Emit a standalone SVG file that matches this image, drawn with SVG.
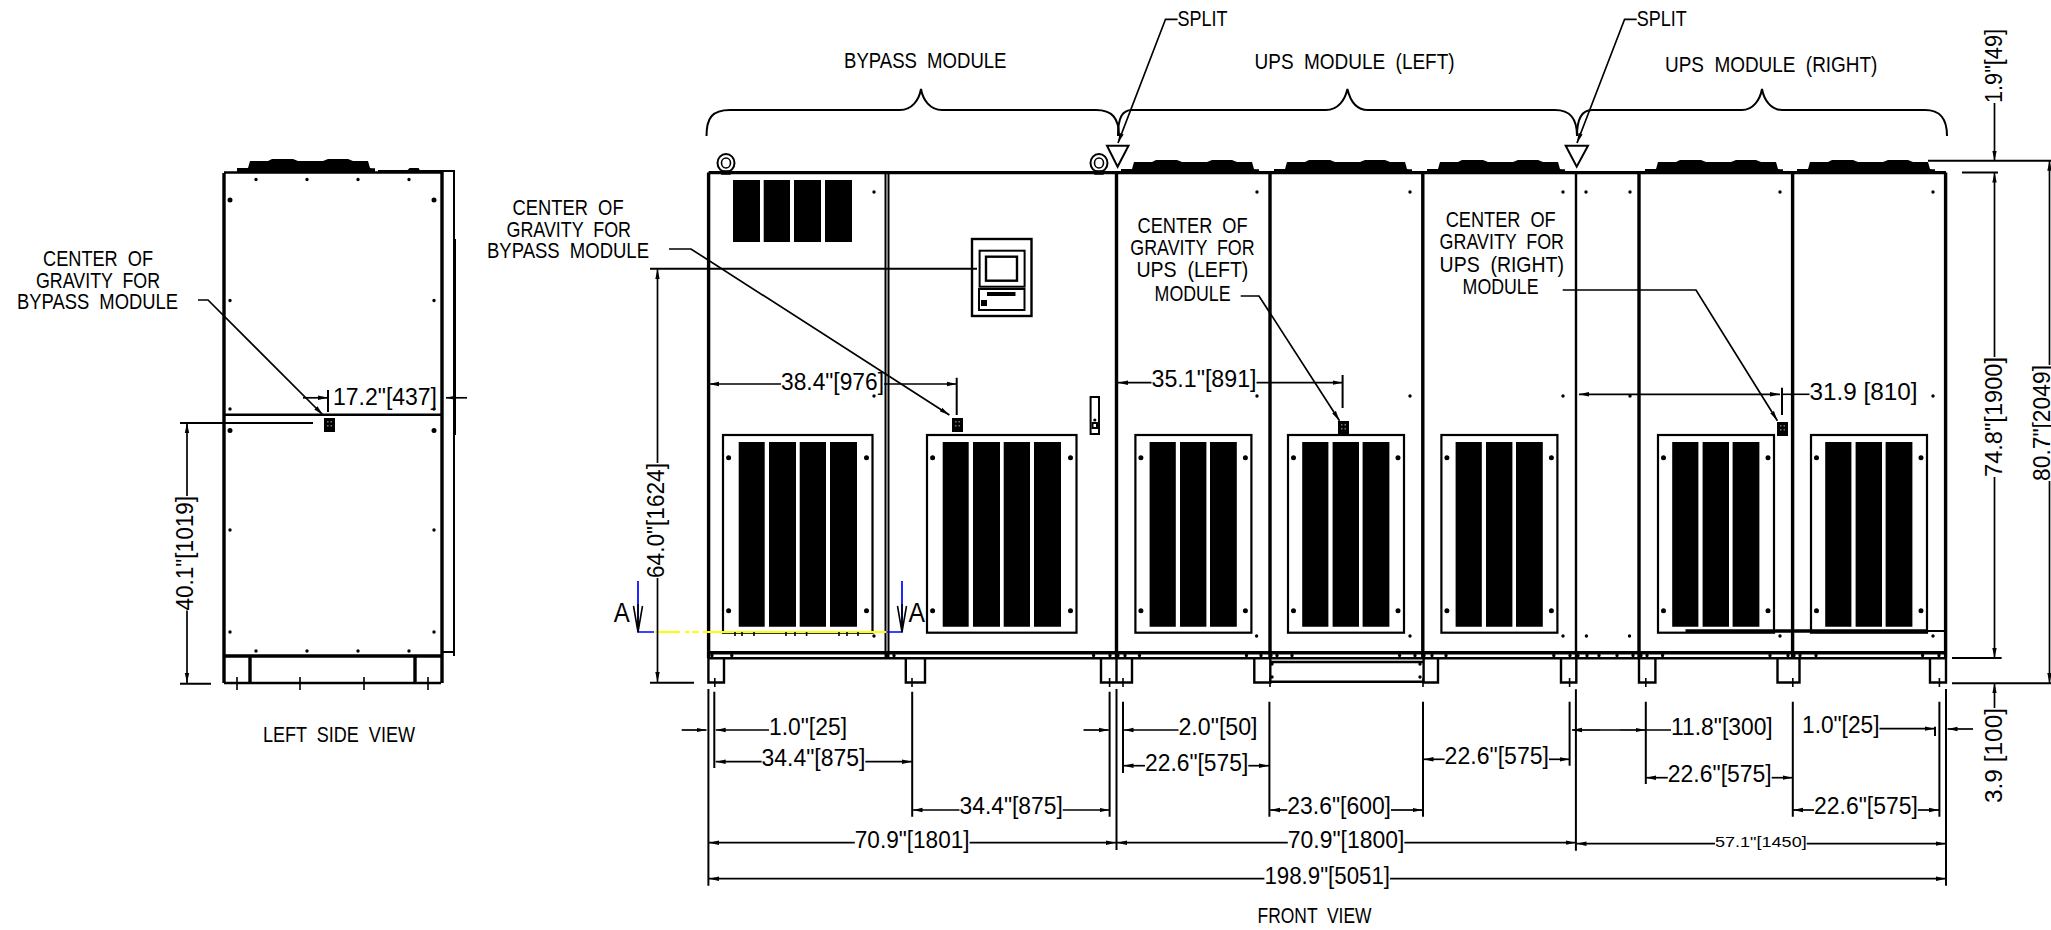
<svg xmlns="http://www.w3.org/2000/svg" width="2051" height="930" viewBox="0 0 2051 930">
<style>
text{font-family:"Liberation Sans",Arial,sans-serif;fill:#000;font-size:23px}
.l{font-size:22px;word-spacing:6px}
.s{font-size:15px}
.big{font-size:27px}
.d{fill:none;stroke:#000;stroke-width:1.7;marker-end:url(#a)}
.n{fill:none;stroke:#000;stroke-width:1.6}
.k{fill:none;stroke:#000;stroke-width:2}
.h{fill:none;stroke:#000;stroke-width:3.4}
.m{fill:none;stroke:#000;stroke-width:2.4}
.b{fill:#000;stroke:none}
.o{fill:#fff;stroke:#000;stroke-width:2.2}
.t{fill:none;stroke:#000;stroke-width:2}
.p{fill:none;stroke:#000;stroke-width:3.4;stroke-linecap:round}
.q{fill:none;stroke:#000;stroke-width:5;stroke-linecap:round}
.blue{fill:none;stroke:#0000ff;stroke-width:1.7}
.yel{fill:none;stroke:#ffff00;stroke-width:2.2}
</style>
<defs>
<marker id="a" markerUnits="userSpaceOnUse" viewBox="-10 -3 10 6" refX="0" refY="0" markerWidth="10" markerHeight="6" orient="auto"><path d="M-10-2.2L0 0L-10 2.2z"/></marker>
<g id="l4"><rect class="o" width="149.5" height="197.7"/><path class="b" d="M15.7 7h26v184.7h-26zM46 7h27v184.7h-27zM76.7 7h26.3v184.7h-26.3zM107 7h27v184.7h-27z"/><path class="q" d="M5.6 22.7h0M143.5 22.7h0M5.6 175.7h0M143.5 175.7h0"/></g>
<g id="l3"><rect class="o" width="116" height="197.7"/><path class="b" d="M14.2 7h26.2v184.7h-26.2zM44.6 7h26.4v184.7h-26.4zM74.6 7h26.8v184.7h-26.8z"/><path class="q" d="M5.5 22.7h0M110 22.7h0M5.5 175.7h0M110 175.7h0"/></g>
<g id="fan"><path class="b" d="M-11 173H127V169.3H124L122 169L120 162H105L100 160H80L75 162H50L45 160H24L20 162H2L0 169H-11z"/></g>
<g id="cog"><rect class="b" width="11" height="14"/><path d="M3 3h1.5v1.5h-1.5zM6.5 3h1.5v1.5h-1.5zM3 7h1.5v1.5h-1.5zM6.5 7h1.5v1.5h-1.5z" fill="#777"/></g>
<g id="eye"><ellipse cx="0" cy="-1" rx="8.5" ry="9" fill="none" stroke="#000" stroke-width="2"/><ellipse cx="0" cy="-1" rx="4.5" ry="5" fill="none" stroke="#000" stroke-width="1.6"/><path class="n" d="M-4 7h8v3h-8z"/></g>
</defs>

<g id="left-side-view">
<use href="#fan" x="248" y="-1"/>
<path class="k" d="M378 171H454V656M408 171l2-2h8l1 2M455 239v47M455 286v149M441 652h13"/>
<path class="h" d="M224 173V683M442 172V683M224 656H442"/>
<path class="m" d="M224 172.5H441M224 414.8H441M224 683H441"/>
<path class="h" d="M250 656V683M415 656V683"/>
<path class="n" d="M237 677v13M300 677v13M364 677v13M428 677v13"/>
<path class="q" d="M230 200h0M434 200h0M230 430.6h0M434 430.6h0"/>
<path class="p" d="M256 179.5h0M307 179.5h0M358 179.5h0M409 179.5h0M230 300.5h0M434 300.5h0M230 409h0M434 409h0M230 530h0M434 530h0M230 632h0M434 632h0M256 651h0M307 651h0M358 651h0M409 651h0"/>
<use href="#cog" x="324" y="418"/>
<text class="l" x="43" y="265.7" textLength="110" lengthAdjust="spacingAndGlyphs">CENTER OF</text>
<text class="l" x="36" y="287.5" textLength="124" lengthAdjust="spacingAndGlyphs">GRAVITY FOR</text>
<text class="l" x="17" y="309" textLength="161" lengthAdjust="spacingAndGlyphs">BYPASS MODULE</text>
<text class="l" x="263" y="742" textLength="152" lengthAdjust="spacingAndGlyphs">LEFT SIDE VIEW</text>
<text x="333" y="405" textLength="104" lengthAdjust="spacingAndGlyphs">17.2"[437]</text>
<text transform="rotate(-90 193 610.5)" x="193" y="610.5" textLength="114.5" lengthAdjust="spacingAndGlyphs">40.1"[1019]</text>
</g>

<g id="front-view">
<use href="#fan" x="1132"/><use href="#fan" x="1285"/><use href="#fan" x="1438"/><use href="#fan" x="1656"/><use href="#fan" x="1808"/>
<use href="#eye" x="726" y="164"/><use href="#eye" x="1099" y="164"/>
<path class="h" d="M708.6 172.6H1946M708.6 172.6V658M1116.5 172.6V658M1270 172.6V658M1422.8 172.6V658M1639 172.6V658M1792.6 172.6V658M1945.6 172.6V658"/>
<path class="m" d="M1576 172.6V658"/>
<path class="k" d="M885.5 172.6V658M888.5 172.6V658"/>
<path class="h" d="M708.6 652.7H1946"/>
<path class="m" d="M708.6 658.3H1946"/>
<path class="b" d="M733 180h27v62h-27zM763.7 180h26.3v62h-26.3zM794 180h27v62h-27zM825 180h27v62h-27z"/>
<use href="#l4" x="723" y="435"/><use href="#l4" x="927" y="435"/>
<use href="#l3" x="1135.4" y="435"/><use href="#l3" x="1288" y="435"/><use href="#l3" x="1441.4" y="435"/><use href="#l3" x="1658" y="435"/><use href="#l3" x="1811" y="435"/>
<path class="k" d="M1774 631H1945"/><path class="h" d="M1685.5 631H1927"/>
<g id="hmi-panel"><rect class="m" x="972" y="239" width="59.5" height="77" fill="#fff"/><rect class="k" x="979.6" y="250.7" width="45" height="36"/><rect class="m" x="986" y="256.7" width="31" height="24"/><rect class="k" x="979" y="289" width="45.5" height="21"/><path class="b" d="M987 292h28.5v4h-28.5zM981 300h6v6h-6z"/></g>
<g id="door-handle"><rect class="k" x="1090.6" y="397" width="8.4" height="37"/><rect class="k" x="1092.5" y="423" width="4.5" height="5"/><circle class="b" cx="1094.8" cy="420" r="1.6"/></g>
<path class="p" d="M874 192h0M874 396h0M1257 192h0M1410 192h0M1563 192h0M1586 192h0M1630 192h0M1780 192h0M1933 192h0M1257 396h0M1410 396h0M1563 396h0M1630 396h0M1933 396h0M874 636h0M1256.6 636h0M1410 636h0M1563 636h0M1586.4 636h0M1629.5 636h0M1780 636h0M1933 636h0"/>
<path class="p" d="M712 655.5h0M731.8 655.5h0M887 655.5h0M894 655.5h0M1093.6 655.5h0M1110 655.5h0M1118 655.5h0M1125 655.5h0M1139.5 655.5h0M1246.5 655.5h0M1261 655.5h0M1271 655.5h0M1277 655.5h0M1292 655.5h0M1399.6 655.5h0M1415 655.5h0M1424 655.5h0M1432 655.5h0M1446 655.5h0M1553.8 655.5h0M1570 655.5h0M1578 655.5h0M1587 655.5h0M1599 655.5h0M1617 655.5h0M1633 655.5h0M1641 655.5h0M1647 655.5h0M1662.6 655.5h0M1770 655.5h0M1788 655.5h0M1794 655.5h0M1800 655.5h0M1816 655.5h0M1922.6 655.5h0M1939 655.5h0"/>
<g id="feet"><path class="m" d="M708.4 658V682.5H724V658M905.8 658V682.5H925V658M1101 658V682.5H1132V658M1116.5 658V683M1254.3 658V682.5H1270.3V658M1423.6 658V682.5H1438V658M1561 658V682.5H1576.3V658M1639 658V682.5H1655.4V658M1777.5 658V682.5H1799.5V658M1930 658V682.5H1946V658"/>
<path class="m" d="M1270 662H1424M1270 681.7H1424"/>
<path class="p" d="M1272 664h0M1272 677h0M1420 664h0M1420 677h0"/>
<path class="n" d="M714.8 678v9M912 678v9M1109.6 678v9M1123 678v9M1270 678v9M1423 678v9M1569.6 678v9M1645.8 678v9M1792.8 678v9M1939.4 678v9"/></g>
<use href="#cog" x="952" y="418"/><use href="#cog" x="1338" y="421"/><use href="#cog" x="1777" y="422"/>
<path class="yel" d="M655 632H680M685 632H689.5M692 632H698.7M703 632H886"/>
<path class="blue" d="M638 581V632H654M887 632H902V581"/>
<path class="n" d="M735 632v4M742 632v4M754 632v4M786 632v4M795 632v4M806.6 632v4M839 632v4M847 632v4M858 632v4"/>
<path class="n" d="M638 604V632M633.5 606L638 632L642.5 606M902 604V632M897.5 606L902 632L906.5 606"/>
<text class="big" x="613.8" y="622.3" textLength="16" lengthAdjust="spacingAndGlyphs">A</text>
<text class="big" x="908.5" y="622.3" textLength="16.5" lengthAdjust="spacingAndGlyphs">A</text>
</g>

<g id="labels">
<text class="l" x="844" y="68" textLength="162.5" lengthAdjust="spacingAndGlyphs">BYPASS MODULE</text>
<text class="l" x="1254.6" y="69.3" textLength="200" lengthAdjust="spacingAndGlyphs">UPS MODULE (LEFT)</text>
<text class="l" x="1665" y="71.7" textLength="212.4" lengthAdjust="spacingAndGlyphs">UPS MODULE (RIGHT)</text>
<text class="l" x="1177.6" y="26" textLength="50" lengthAdjust="spacingAndGlyphs">SPLIT</text>
<text class="l" x="1636.7" y="26" textLength="50" lengthAdjust="spacingAndGlyphs">SPLIT</text>
<text class="l" x="512.6" y="215" textLength="111" lengthAdjust="spacingAndGlyphs">CENTER OF</text>
<text class="l" x="506.5" y="236.7" textLength="124.5" lengthAdjust="spacingAndGlyphs">GRAVITY FOR</text>
<text class="l" x="487" y="258" textLength="162" lengthAdjust="spacingAndGlyphs">BYPASS MODULE</text>
<text class="l" x="1137.6" y="233.3" textLength="110" lengthAdjust="spacingAndGlyphs">CENTER OF</text>
<text class="l" x="1130.3" y="255" textLength="124.3" lengthAdjust="spacingAndGlyphs">GRAVITY FOR</text>
<text class="l" x="1136.4" y="277.3" textLength="112" lengthAdjust="spacingAndGlyphs">UPS (LEFT)</text>
<text class="l" x="1154.6" y="301" textLength="76" lengthAdjust="spacingAndGlyphs">MODULE</text>
<text class="l" x="1445.7" y="227.3" textLength="110" lengthAdjust="spacingAndGlyphs">CENTER OF</text>
<text class="l" x="1439.6" y="249" textLength="124.4" lengthAdjust="spacingAndGlyphs">GRAVITY FOR</text>
<text class="l" x="1439.6" y="271.7" textLength="124.4" lengthAdjust="spacingAndGlyphs">UPS (RIGHT)</text>
<text class="l" x="1462.6" y="294.3" textLength="76" lengthAdjust="spacingAndGlyphs">MODULE</text>
<text class="l" x="1257.5" y="923" textLength="114" lengthAdjust="spacingAndGlyphs">FRONT VIEW</text>
<text x="781" y="390" textLength="103" lengthAdjust="spacingAndGlyphs">38.4"[976]</text>
<text x="1151.5" y="387" textLength="105" lengthAdjust="spacingAndGlyphs">35.1"[891]</text>
<text x="1809.5" y="400" textLength="108" lengthAdjust="spacingAndGlyphs">31.9 [810]</text>
<text x="769" y="735" textLength="78" lengthAdjust="spacingAndGlyphs">1.0"[25]</text>
<text x="761.6" y="766" textLength="103.8" lengthAdjust="spacingAndGlyphs">34.4"[875]</text>
<text x="959.5" y="814.3" textLength="103.3" lengthAdjust="spacingAndGlyphs">34.4"[875]</text>
<text x="854.8" y="847.7" textLength="114.8" lengthAdjust="spacingAndGlyphs">70.9"[1801]</text>
<text x="1264.4" y="884" textLength="125.6" lengthAdjust="spacingAndGlyphs">198.9"[5051]</text>
<text x="1178.5" y="735" textLength="79" lengthAdjust="spacingAndGlyphs">2.0"[50]</text>
<text x="1145" y="770.7" textLength="103.3" lengthAdjust="spacingAndGlyphs">22.6"[575]</text>
<text x="1287.3" y="814.3" textLength="103.7" lengthAdjust="spacingAndGlyphs">23.6"[600]</text>
<text x="1287.8" y="847.7" textLength="116.6" lengthAdjust="spacingAndGlyphs">70.9"[1800]</text>
<text x="1444.6" y="764" textLength="104.4" lengthAdjust="spacingAndGlyphs">22.6"[575]</text>
<text x="1671" y="735" textLength="101.7" lengthAdjust="spacingAndGlyphs">11.8"[300]</text>
<text x="1667.8" y="782.3" textLength="103.9" lengthAdjust="spacingAndGlyphs">22.6"[575]</text>
<text x="1814" y="814.3" textLength="103.8" lengthAdjust="spacingAndGlyphs">22.6"[575]</text>
<text x="1802" y="733.3" textLength="77.5" lengthAdjust="spacingAndGlyphs">1.0"[25]</text>
<text class="s" x="1715" y="847.3" textLength="91.7" lengthAdjust="spacingAndGlyphs">57.1"[1450]</text>
<text transform="rotate(-90 664 578)" x="664" y="578" textLength="115" lengthAdjust="spacingAndGlyphs">64.0"[1624]</text>
<text transform="rotate(-90 2002 103)" x="2002" y="103" textLength="74" lengthAdjust="spacingAndGlyphs">1.9"[49]</text>
<text transform="rotate(-90 2002 477)" x="2002" y="477" textLength="120" lengthAdjust="spacingAndGlyphs">74.8"[1900]</text>
<text transform="rotate(-90 2050 481)" x="2050" y="481" textLength="116" lengthAdjust="spacingAndGlyphs">80.7"[2049]</text>
<text transform="rotate(-90 2002 803)" x="2002" y="803" textLength="95" lengthAdjust="spacingAndGlyphs">3.9 [100]</text>
</g>

<g id="connectors">
<path class="k" d="M706.5 136C706.5 118 712 110 730 110H900C912 110 919 100 921 89C923 100 930 110 942 110H1096C1112 110 1119 118 1119 136"/>
<path class="k" d="M1118 136C1118 118 1122 110 1132 110H1326C1338 110 1345 100 1347.4 89C1350 100 1356 110 1368 110H1555C1570 110 1577 118 1577 136"/>
<path class="k" d="M1577 136C1577 118 1582 110 1592 110H1742C1753 110 1760 100 1762 89C1764 100 1771 110 1782 110H1925C1940 110 1947 118 1947 136"/>
<path class="t" d="M1107 145.7H1128.5L1117.6 166.7z"/><path class="t" d="M1565.7 145.7H1588L1576.7 166.7z"/>
<path class="d" d="M1177.6 19.3H1165.5L1118 143"/><path class="d" d="M1636.7 19.3H1624.6L1577 143"/>
<path class="d" d="M198 300H208L323 415"/>
<path class="d" d="M669 249H691L949.4 415"/>
<path class="d" d="M1240.7 296H1259L1339.5 420.7"/>
<path class="d" d="M1562.7 290H1696L1777.4 420.7"/>
<path class="k" d="M180 423H313M180 683.7H211M328 390V412M650 268.7H977M650 682.7H694"/>
<path class="k" d="M956.7 377.7V415M1342.6 375V408M1782 387.7V415"/>
<path class="k" d="M1928 160.7H2051M1962 172.6H1998M1952 658H2001.6M1952 683.3H2051"/>
<path class="d" d="M303 397.8H328"/><path class="d" d="M467 397.8H446"/>
<path class="d" d="M187 496V423"/><path class="d" d="M187 610.5V683"/>
<path class="d" d="M657.5 463V269"/><path class="d" d="M657.5 578V682"/>
<path class="d" d="M781 384H709"/><path class="d" d="M884 384H956.7"/>
<path class="d" d="M1151.5 382.7H1118"/><path class="d" d="M1256.5 382.7H1342.6"/>
<path class="d" d="M1700 394.3H1780"/><path class="d" d="M1700 394.3H1579"/><path class="n" d="M1782 394.3H1809.5"/>
<path class="d" d="M1994.5 103V160.7"/>
<path class="d" d="M1994.5 357V172.6"/><path class="d" d="M1994.5 477V658"/>
<path class="d" d="M2049.5 365V160.7"/><path class="d" d="M2049.5 481V683"/>
<path class="d" d="M1994.5 708V683.3"/>
<path class="k" d="M708.4 689V885.7M714.3 691.7V768M912.2 691.7V816.7M1109.6 691.7V816.7M1116.5 689V850M1123 701.7V773M1269.4 701.7V816.7M1423 701.7V816.7M1569.6 701.7V765.7M1575.9 689.3V850.7M1645.8 701.7V784M1792.8 701.7V816.7M1939.4 701.7V816.7M1946 689V885.7M1935 726.7V736"/>
<path class="d" d="M681.7 730H706.5"/><path class="d" d="M769 730H715.7"/>
<path class="d" d="M761.6 761.7H715.7"/><path class="d" d="M865.4 761.7H912"/>
<path class="d" d="M959.5 810H912.5"/><path class="d" d="M1062.8 810H1109.5"/>
<path class="d" d="M854.8 842.7H709"/><path class="d" d="M969.6 842.7H1116"/>
<path class="d" d="M1264.4 878.7H709"/><path class="d" d="M1390 878.7H1946"/>
<path class="d" d="M1083.5 730H1108.7"/><path class="d" d="M1178.5 730H1123.5"/>
<path class="d" d="M1145 765.7H1123.5"/><path class="d" d="M1248.3 765.7H1269"/>
<path class="d" d="M1287.3 810H1270"/><path class="d" d="M1391 810H1422.5"/>
<path class="d" d="M1287.8 842.7H1117"/><path class="d" d="M1404.4 842.7H1575.5"/>
<path class="d" d="M1444.6 759.3H1423.5"/><path class="d" d="M1549 759.3H1569.5"/>
<path class="d" d="M1600 730H1572"/><path class="d" d="M1620 730H1645.5"/><path class="n" d="M1600 730H1620M1645.8 730H1671"/>
<path class="d" d="M1667.8 777.7H1646"/><path class="d" d="M1771.7 777.7H1792.5"/>
<path class="d" d="M1814 810H1793"/><path class="d" d="M1917.8 810H1939"/>
<path class="d" d="M1879.5 728.7H1934.6"/><path class="d" d="M1973 729H1947.5"/>
<path class="d" d="M1715 843.7H1576.5"/><path class="d" d="M1806.7 843.7H1945.5"/>
</g>
</svg>
